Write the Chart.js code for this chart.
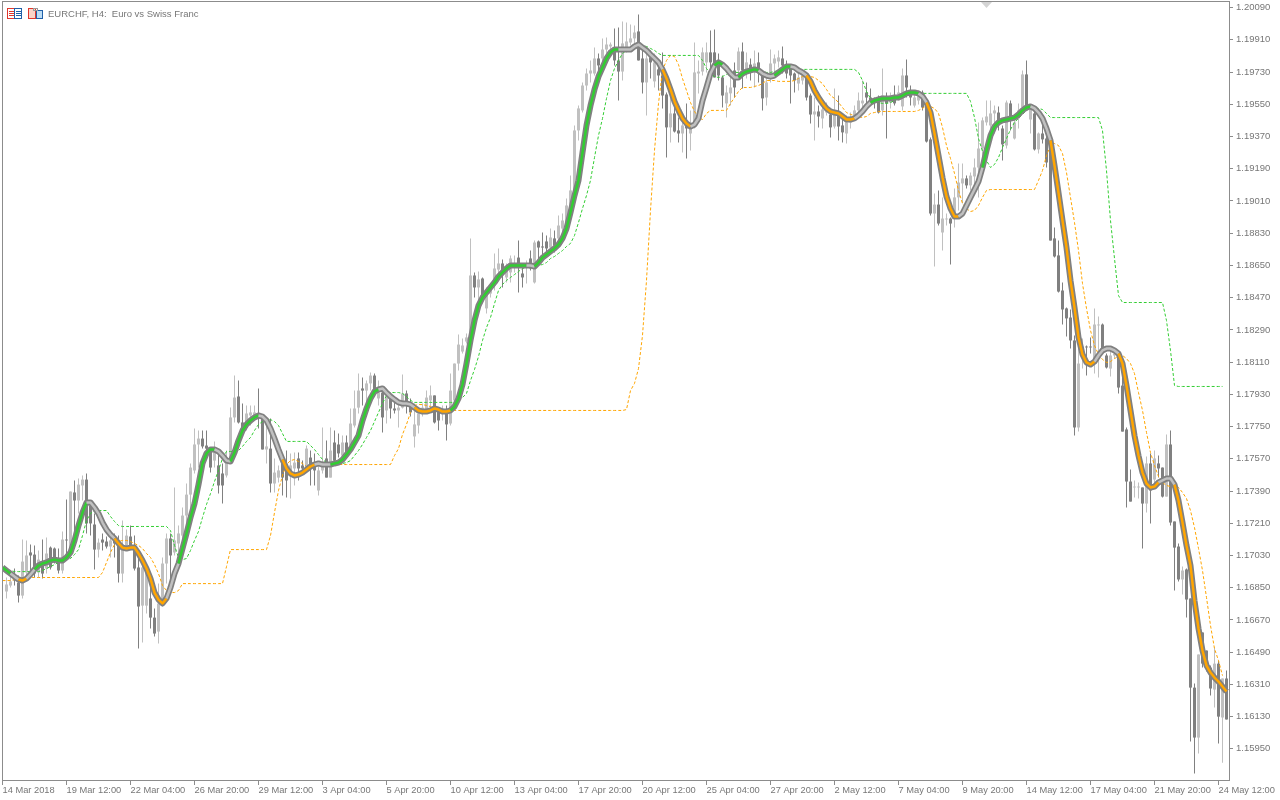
<!DOCTYPE html>
<html>
<head>
<meta charset="utf-8">
<title>EURCHF, H4</title>
<script src="https://cdn.jsdelivr.net/npm/chart.js@4/dist/chart.umd.min.js"></script>
<style>
html,body{margin:0;padding:0;background:#fff;}
canvas{display:block;}
</style>
</head>
<body>
<canvas id="myChart" width="1280" height="800"></canvas>
<script>
// one row per time tick
var open = [
1.16829,1.16862,1.16918,1.16879,1.16806,1.16935,1.17047,1.17035,1.16935,1.16991,1.16957,1.17074,1.17069,1.17013,1.16946,
1.17119,1.17041,1.17382,1.17337,1.17421,1.17454,1.17309,1.17203,1.17063,1.17119,1.17108,1.17080,1.17125,1.17102,1.16929,1.17086,
1.17136,1.17086,1.16963,1.16750,1.16750,1.16790,1.16683,1.16605,1.16767,1.16985,1.17125,1.17047,1.17097,1.17141,1.17253,1.17370,
1.17505,1.17650,1.17683,1.17644,1.17627,1.17560,1.17533,1.17488,1.17477,1.17560,1.17801,1.17918,1.17773,1.17745,1.17812,1.17806,
1.17817,1.17795,1.17622,1.17627,1.17432,1.17465,1.17544,1.17505,1.17488,1.17516,1.17572,1.17533,1.17516,1.17577,1.17538,1.17393,
1.17505,1.17572,1.17465,1.17661,1.17650,1.17588,1.17661,1.17644,1.17756,1.17856,1.17963,1.17951,1.17991,1.18035,1.17907,1.17940,
1.17840,1.17907,1.17851,1.17840,1.17856,1.17935,1.17879,1.17695,1.17756,1.17829,1.17840,1.17896,1.17924,1.17840,1.17829,1.17829,
1.17767,1.17896,1.18102,1.18169,1.18225,1.18248,1.18594,1.18527,1.18577,1.18410,1.18493,1.18538,1.18627,1.18661,1.18583,1.18611,
1.18639,1.18694,1.18605,1.18639,1.18689,1.18555,1.18784,1.18756,1.18784,1.18750,1.18801,1.18801,1.18856,1.18873,1.18968,1.19069,
1.19404,1.19516,1.19655,1.19722,1.19722,1.19806,1.19806,1.19856,1.19873,1.19862,1.19795,1.19733,1.19867,1.19895,1.19918,1.19957,
1.19806,1.19672,1.19812,1.19678,1.19745,1.19711,1.19605,1.19421,1.19499,1.19404,1.19387,1.19432,1.19387,1.19421,1.19722,1.19733,
1.19784,1.19840,1.19840,1.19784,1.19700,1.19555,1.19611,1.19739,1.19739,1.19845,1.19728,1.19772,1.19739,1.19784,1.19722,1.19588,
1.19694,1.19778,1.19789,1.19806,1.19767,1.19750,1.19722,1.19666,1.19683,1.19694,1.19599,1.19493,1.19510,1.19471,1.19504,1.19493,
1.19426,1.19488,1.19432,1.19387,1.19449,1.19471,1.19516,1.19555,1.19616,1.19588,1.19571,1.19588,1.19516,1.19588,1.19560,1.19583,
1.19588,1.19538,1.19711,1.19627,1.19543,1.19571,1.19616,1.19543,1.19354,1.18940,1.18990,1.18834,1.18907,1.18912,1.18912,1.19030,
1.19108,1.19136,1.19097,1.19147,1.19197,1.19303,1.19449,1.19432,1.19499,1.19504,1.19415,1.19320,1.19555,1.19359,1.19471,1.19532,
1.19717,1.19465,1.19499,1.19298,1.19387,1.19359,1.19337,1.18801,1.18706,1.18510,1.18410,1.18359,1.18231,1.17745,1.18186,1.18197,
1.18197,1.18119,1.18315,1.18320,1.18147,1.18074,1.18147,1.18147,1.17979,1.17734,1.17443,1.17410,1.17410,1.17410,1.17320,1.17544,
1.17454,1.17544,1.17521,1.17359,1.17650,1.17220,1.17080,1.16896,1.16952,1.16790,1.16292,1.16013,1.16600,1.16499,1.16404,1.16281,
1.16426,1.16125,1.16343
];
var high = [
1.16907,1.16946,1.16957,1.16918,1.17119,1.17114,1.17091,1.17086,1.17058,1.17119,1.17130,1.17080,1.17074,1.17069,1.17164,
1.17343,1.17387,1.17449,1.17460,1.17477,1.17488,1.17326,1.17264,1.17125,1.17153,1.17136,1.17153,1.17153,1.17141,1.17225,1.17175,
1.17197,1.17141,1.17019,1.17019,1.16974,1.16851,1.16734,1.16873,1.17019,1.17153,1.17153,1.17410,1.17197,1.17298,1.17432,1.17544,
1.17739,1.17728,1.17728,1.17728,1.17633,1.17667,1.17600,1.17544,1.17616,1.17856,1.18035,1.18007,1.17879,1.17868,1.17868,1.17868,
1.17963,1.17812,1.17784,1.17795,1.17572,1.17533,1.17560,1.17616,1.17600,1.17605,1.17605,1.17560,1.17644,1.17616,1.17600,1.17544,
1.17745,1.17672,1.17745,1.17728,1.17711,1.17700,1.17700,1.17851,1.17951,1.18046,1.18024,1.18007,1.18052,1.18046,1.18007,1.17951,
1.17963,1.17935,1.17896,1.17896,1.18041,1.17951,1.17907,1.17879,1.17851,1.17879,1.17951,1.17979,1.17924,1.17856,1.17868,1.17868,
1.18046,1.18102,1.18264,1.18242,1.18270,1.18801,1.18611,1.18616,1.18583,1.18527,1.18549,1.18717,1.18745,1.18683,1.18661,1.18706,
1.18706,1.18789,1.18661,1.18678,1.18733,1.18789,1.18789,1.18834,1.18817,1.18856,1.18845,1.18929,1.18940,1.19024,1.19152,1.19432,
1.19543,1.19672,1.19750,1.19795,1.19867,1.19834,1.19918,1.19923,1.19895,1.19974,1.19979,1.20013,1.20007,1.19996,1.19990,1.20052,
1.19867,1.19840,1.19851,1.19834,1.19767,1.19840,1.19616,1.19638,1.19532,1.19476,1.19476,1.19555,1.19516,1.19895,1.19795,1.19867,
1.19895,1.19962,1.19968,1.19834,1.19711,1.19655,1.19711,1.19784,1.19867,1.19895,1.19840,1.19806,1.19851,1.19840,1.19728,1.19711,
1.19856,1.19828,1.19851,1.19873,1.19795,1.19756,1.19728,1.19728,1.19728,1.19711,1.19611,1.19588,1.19543,1.19543,1.19560,1.19527,
1.19638,1.19599,1.19488,1.19488,1.19504,1.19543,1.19616,1.19683,1.19672,1.19638,1.19588,1.19599,1.19750,1.19616,1.19616,1.19655,
1.19655,1.19750,1.19800,1.19655,1.19627,1.19627,1.19627,1.19571,1.19365,1.19052,1.19069,1.19030,1.18940,1.18918,1.19080,1.19219,
1.19219,1.19152,1.19169,1.19247,1.19449,1.19476,1.19571,1.19571,1.19543,1.19538,1.19432,1.19571,1.19571,1.19488,1.19555,1.19739,
1.19795,1.19532,1.19527,1.19393,1.19471,1.19421,1.19337,1.18862,1.18789,1.18555,1.18415,1.18404,1.18259,1.18242,1.18242,1.18203,
1.18248,1.18410,1.18365,1.18326,1.18158,1.18175,1.18180,1.18158,1.18080,1.17745,1.17510,1.17449,1.17438,1.17410,1.17583,1.17600,
1.17616,1.17588,1.17521,1.17706,1.17728,1.17220,1.17097,1.16968,1.16957,1.16790,1.16315,1.16477,1.16600,1.16499,1.16415,1.16516,
1.16443,1.16343,1.16387
];
var low = [
1.16790,1.16851,1.16862,1.16767,1.16790,1.16907,1.16929,1.16907,1.16907,1.16901,1.16929,1.16952,1.16985,1.16929,1.16929,
1.17002,1.17013,1.17074,1.17264,1.17337,1.17153,1.17141,1.16952,1.17019,1.17058,1.17069,1.17019,1.17019,1.16879,1.16879,1.17069,
1.17069,1.16946,1.16510,1.16544,1.16706,1.16622,1.16577,1.16538,1.16762,1.16873,1.16851,1.17030,1.17030,1.17074,1.17141,1.17281,
1.17488,1.17521,1.17627,1.17577,1.17493,1.17521,1.17376,1.17320,1.17465,1.17549,1.17773,1.17767,1.17700,1.17728,1.17756,1.17784,
1.17739,1.17622,1.17544,1.17382,1.17382,1.17438,1.17365,1.17354,1.17348,1.17421,1.17449,1.17493,1.17493,1.17421,1.17421,1.17365,
1.17488,1.17465,1.17465,1.17549,1.17577,1.17560,1.17588,1.17627,1.17745,1.17823,1.17868,1.17879,1.17951,1.17924,1.17868,1.17717,
1.17767,1.17795,1.17823,1.17745,1.17851,1.17823,1.17806,1.17633,1.17711,1.17806,1.17823,1.17829,1.17767,1.17728,1.17784,1.17672,
1.17756,1.17885,1.18063,1.18158,1.18214,1.18242,1.18471,1.18410,1.18443,1.18382,1.18471,1.18510,1.18605,1.18527,1.18555,1.18555,
1.18611,1.18499,1.18527,1.18549,1.18622,1.18549,1.18650,1.18689,1.18717,1.18722,1.18722,1.18761,1.18801,1.18834,1.18929,1.19013,
1.19348,1.19504,1.19627,1.19672,1.19711,1.19700,1.19767,1.19834,1.19840,1.19767,1.19571,1.19683,1.19840,1.19879,1.19879,1.19795,
1.19611,1.19488,1.19694,1.19644,1.19627,1.19527,1.19253,1.19337,1.19393,1.19337,1.19281,1.19247,1.19292,1.19415,1.19611,1.19711,
1.19728,1.19739,1.19700,1.19683,1.19532,1.19476,1.19543,1.19588,1.19700,1.19638,1.19694,1.19683,1.19644,1.19672,1.19516,1.19543,
1.19672,1.19700,1.19756,1.19722,1.19694,1.19555,1.19616,1.19627,1.19661,1.19571,1.19443,1.19348,1.19421,1.19415,1.19488,1.19365,
1.19415,1.19348,1.19337,1.19331,1.19415,1.19460,1.19476,1.19532,1.19555,1.19543,1.19527,1.19499,1.19488,1.19359,1.19527,1.19543,
1.19571,1.19516,1.19588,1.19543,1.19532,1.19549,1.19516,1.19337,1.18929,1.18644,1.18873,1.18733,1.18873,1.18655,1.18862,1.18957,
1.18996,1.19080,1.19069,1.19097,1.19030,1.19192,1.19432,1.19365,1.19387,1.19404,1.19236,1.19303,1.19404,1.19354,1.19415,1.19527,
1.19527,1.19387,1.19292,1.19275,1.19331,1.19197,1.18789,1.18694,1.18499,1.18320,1.18253,1.18186,1.17700,1.17722,1.18074,1.18035,
1.18158,1.18046,1.18024,1.18175,1.18074,1.18030,1.18130,1.17935,1.17722,1.17298,1.17331,1.17354,1.17348,1.17069,1.17270,1.17209,
1.17421,1.17465,1.17354,1.17359,1.17197,1.16834,1.16885,1.16812,1.16683,1.15991,1.15812,1.15924,1.16404,1.16382,1.16248,1.16181,
1.15980,1.15873,1.16114
];
var close = [
1.16868,1.16885,1.16890,1.16806,1.16996,1.17030,1.17030,1.16929,1.17007,1.16929,1.17041,1.16963,1.17002,1.16946,1.17119,
1.17114,1.17387,1.17337,1.17426,1.17454,1.17209,1.17209,1.17063,1.17102,1.17102,1.17080,1.17114,1.17097,1.16929,1.17069,1.17141,
1.17086,1.16957,1.16745,1.16963,1.16935,1.16683,1.16594,1.16762,1.16985,1.17125,1.17030,1.17114,1.17153,1.17253,1.17370,1.17521,
1.17650,1.17683,1.17639,1.17627,1.17521,1.17616,1.17421,1.17421,1.17577,1.17801,1.17912,1.17773,1.17717,1.17823,1.17829,1.17829,
1.17795,1.17622,1.17639,1.17432,1.17493,1.17505,1.17465,1.17449,1.17533,1.17549,1.17516,1.17516,1.17627,1.17516,1.17505,1.17505,
1.17549,1.17465,1.17616,1.17560,1.17600,1.17661,1.17605,1.17767,1.17851,1.17951,1.17951,1.17991,1.18035,1.17951,1.17940,1.17801,
1.17912,1.17851,1.17840,1.17856,1.17935,1.17868,1.17829,1.17762,1.17823,1.17856,1.17912,1.17924,1.17773,1.17784,1.17851,1.17762,
1.17951,1.18102,1.18208,1.18203,1.18248,1.18594,1.18527,1.18572,1.18465,1.18499,1.18527,1.18633,1.18661,1.18622,1.18639,1.18689,
1.18661,1.18650,1.18583,1.18661,1.18633,1.18778,1.18750,1.18750,1.18745,1.18806,1.18761,1.18873,1.18901,1.18985,1.19069,1.19404,
1.19527,1.19655,1.19722,1.19739,1.19806,1.19767,1.19856,1.19884,1.19884,1.19795,1.19733,1.19890,1.19901,1.19918,1.19951,1.19795,
1.19672,1.19806,1.19784,1.19784,1.19711,1.19599,1.19421,1.19499,1.19398,1.19387,1.19432,1.19415,1.19421,1.19728,1.19733,1.19840,
1.19840,1.19784,1.19700,1.19711,1.19599,1.19616,1.19644,1.19644,1.19845,1.19739,1.19784,1.19728,1.19778,1.19722,1.19583,1.19672,
1.19778,1.19806,1.19812,1.19767,1.19722,1.19711,1.19683,1.19700,1.19722,1.19588,1.19493,1.19510,1.19482,1.19521,1.19527,1.19421,
1.19499,1.19426,1.19393,1.19449,1.19471,1.19516,1.19571,1.19571,1.19588,1.19560,1.19560,1.19504,1.19599,1.19555,1.19599,1.19555,
1.19616,1.19711,1.19644,1.19588,1.19588,1.19599,1.19532,1.19342,1.18940,1.18990,1.18884,1.18912,1.18912,1.18884,1.19030,1.19113,
1.19136,1.19097,1.19152,1.19197,1.19303,1.19460,1.19482,1.19499,1.19516,1.19449,1.19326,1.19560,1.19476,1.19449,1.19516,1.19717,
1.19527,1.19521,1.19298,1.19387,1.19354,1.19225,1.18789,1.18700,1.18504,1.18404,1.18354,1.18231,1.17745,1.18102,1.18197,1.18192,
1.18192,1.18320,1.18320,1.18186,1.18080,1.18147,1.18158,1.17968,1.17722,1.17443,1.17331,1.17415,1.17415,1.17320,1.17544,1.17393,
1.17572,1.17516,1.17359,1.17650,1.17214,1.17074,1.16896,1.16946,1.16784,1.16292,1.16013,1.16477,1.16426,1.16399,1.16287,1.16426,
1.16130,1.16343,1.16114
];
// the three lines start one bar earlier, at the left edge
var maLine = [1.16963,
1.16946,1.16929,1.16912,1.16896,1.16890,1.16901,1.16924,1.16952,1.16974,1.16985,1.16991,1.17002,1.17007,1.17002,1.17002,
1.17019,1.17047,1.17114,1.17197,1.17270,1.17326,1.17326,1.17298,1.17264,1.17214,1.17175,1.17147,1.17125,1.17097,1.17074,1.17069,
1.17074,1.17074,1.17041,1.17002,1.16957,1.16901,1.16823,1.16784,1.16762,1.16790,1.16851,1.16929,1.16985,1.17069,1.17153,1.17242,
1.17320,1.17426,1.17544,1.17600,1.17622,1.17622,1.17611,1.17588,1.17560,1.17555,1.17605,1.17672,1.17728,1.17762,1.17784,1.17801,
1.17812,1.17806,1.17784,1.17739,1.17683,1.17622,1.17566,1.17516,1.17488,1.17477,1.17482,1.17493,1.17510,1.17527,1.17538,1.17544,
1.17538,1.17538,1.17538,1.17544,1.17549,1.17566,1.17594,1.17622,1.17661,1.17700,1.17784,1.17851,1.17907,1.17946,1.17957,1.17963,
1.17940,1.17918,1.17901,1.17885,1.17879,1.17879,1.17873,1.17856,1.17840,1.17834,1.17834,1.17840,1.17851,1.17845,1.17834,1.17834,
1.17840,1.17862,1.17907,1.17985,1.18102,1.18231,1.18342,1.18426,1.18471,1.18499,1.18527,1.18555,1.18588,1.18611,1.18633,1.18650,
1.18650,1.18650,1.18650,1.18650,1.18650,1.18644,1.18666,1.18694,1.18711,1.18728,1.18745,1.18767,1.18801,1.18856,1.18946,1.19041,
1.19125,1.19281,1.19432,1.19543,1.19633,1.19705,1.19756,1.19806,1.19840,1.19856,1.19856,1.19856,1.19856,1.19856,1.19873,1.19884,
1.19867,1.19851,1.19828,1.19806,1.19784,1.19745,1.19694,1.19633,1.19566,1.19516,1.19471,1.19443,1.19426,1.19437,1.19471,1.19571,
1.19644,1.19722,1.19767,1.19784,1.19772,1.19750,1.19722,1.19700,1.19700,1.19722,1.19733,1.19739,1.19745,1.19739,1.19722,1.19711,
1.19705,1.19711,1.19728,1.19745,1.19761,1.19761,1.19756,1.19739,1.19728,1.19711,1.19678,1.19627,1.19588,1.19555,1.19527,1.19510,
1.19504,1.19499,1.19482,1.19465,1.19465,1.19471,1.19488,1.19510,1.19538,1.19560,1.19571,1.19577,1.19583,1.19583,1.19583,1.19588,
1.19588,1.19599,1.19611,1.19616,1.19616,1.19611,1.19594,1.19560,1.19504,1.19387,1.19264,1.19141,1.19035,1.18968,1.18923,1.18923,
1.18940,1.18985,1.19030,1.19074,1.19119,1.19197,1.19292,1.19376,1.19426,1.19449,1.19460,1.19465,1.19471,1.19476,1.19493,1.19516,
1.19532,1.19538,1.19527,1.19504,1.19471,1.19415,1.19348,1.19208,1.19057,1.18901,1.18750,1.18566,1.18415,1.18248,1.18153,1.18108,
1.18097,1.18113,1.18147,1.18175,1.18186,1.18186,1.18175,1.18158,1.18102,1.17979,1.17840,1.17700,1.17588,1.17493,1.17432,1.17410,
1.17415,1.17438,1.17449,1.17460,1.17460,1.17426,1.17337,1.17214,1.17086,1.16974,1.16778,1.16622,1.16499,1.16415,1.16376,1.16348,
1.16326,1.16298,1.16270
];
var upperBand = [1.16946,
1.16946,1.16946,1.16940,1.16940,1.16940,1.16940,1.16940,1.16940,1.16940,1.16946,1.16957,1.16968,1.16979,1.16991,1.17002,
1.17007,1.17013,1.17035,1.17063,1.17141,1.17225,1.17264,1.17281,1.17281,1.17281,1.17281,1.17248,1.17220,1.17197,1.17192,1.17192,
1.17192,1.17192,1.17192,1.17192,1.17192,1.17192,1.17192,1.17192,1.17192,1.17192,1.17169,1.17086,1.17019,1.17007,1.17013,1.17058,
1.17114,1.17164,1.17242,1.17315,1.17376,1.17443,1.17505,1.17572,1.17611,1.17611,1.17611,1.17616,1.17639,1.17667,1.17689,1.17728,
1.17762,1.17778,1.17789,1.17789,1.17778,1.17756,1.17711,1.17667,1.17667,1.17667,1.17667,1.17667,1.17667,1.17644,1.17622,1.17594,
1.17566,1.17549,1.17538,1.17538,1.17544,1.17544,1.17549,1.17560,1.17588,1.17616,1.17650,1.17689,1.17728,1.17778,1.17829,1.17879,
1.17924,1.17940,1.17940,1.17940,1.17935,1.17918,1.17896,1.17885,1.17885,1.17885,1.17885,1.17885,1.17885,1.17885,1.17885,1.17885,
1.17885,1.17885,1.17896,1.17912,1.17935,1.18007,1.18069,1.18141,1.18231,1.18303,1.18359,1.18437,1.18510,1.18544,1.18566,1.18583,
1.18599,1.18616,1.18633,1.18639,1.18639,1.18639,1.18650,1.18655,1.18666,1.18689,1.18700,1.18717,1.18733,1.18756,1.18773,1.18817,
1.18890,1.18968,1.19041,1.19125,1.19253,1.19376,1.19471,1.19583,1.19683,1.19750,1.19795,1.19834,1.19851,1.19862,1.19873,1.19879,
1.19879,1.19873,1.19862,1.19851,1.19834,1.19823,1.19823,1.19823,1.19823,1.19823,1.19823,1.19823,1.19823,1.19823,1.19823,1.19795,
1.19750,1.19722,1.19705,1.19700,1.19705,1.19717,1.19728,1.19728,1.19728,1.19728,1.19733,1.19739,1.19745,1.19745,1.19733,1.19728,
1.19728,1.19733,1.19739,1.19739,1.19745,1.19745,1.19745,1.19745,1.19745,1.19745,1.19745,1.19745,1.19745,1.19745,1.19745,1.19745,
1.19745,1.19745,1.19745,1.19745,1.19745,1.19745,1.19728,1.19683,1.19622,1.19583,1.19566,1.19560,1.19555,1.19555,1.19560,1.19571,
1.19583,1.19588,1.19594,1.19605,1.19611,1.19611,1.19611,1.19611,1.19611,1.19611,1.19611,1.19611,1.19611,1.19611,1.19611,1.19611,
1.19611,1.19611,1.19566,1.19476,1.19359,1.19287,1.19236,1.19197,1.19214,1.19253,1.19309,1.19359,1.19409,1.19449,1.19471,1.19493,
1.19516,1.19527,1.19532,1.19527,1.19521,1.19499,1.19476,1.19476,1.19476,1.19476,1.19476,1.19476,1.19476,1.19476,1.19476,1.19476,
1.19476,1.19476,1.19476,1.19404,1.19180,1.18901,1.18689,1.18482,1.18443,1.18443,1.18443,1.18443,1.18443,1.18443,1.18443,1.18443,
1.18443,1.18443,1.18443,1.18342,1.18175,1.17979,1.17974,1.17974,1.17974,1.17974,1.17974,1.17974,1.17974,1.17974,1.17974,1.17974,
1.17974,1.17974,null
];
var lowerBand = [1.16890,
1.16890,1.16890,1.16896,1.16901,1.16907,1.16907,1.16907,1.16907,1.16907,1.16907,1.16907,1.16907,1.16907,1.16907,1.16907,
1.16907,1.16907,1.16907,1.16907,1.16907,1.16907,1.16907,1.16907,1.16907,1.16935,1.16991,1.17047,1.17091,1.17108,1.17114,1.17114,
1.17108,1.17097,1.17086,1.17069,1.17041,1.17019,1.16979,1.16929,1.16862,1.16834,1.16823,1.16823,1.16834,1.16873,1.16873,1.16873,
1.16873,1.16873,1.16873,1.16873,1.16873,1.16873,1.16873,1.16873,1.16968,1.17063,1.17063,1.17063,1.17063,1.17063,1.17063,1.17063,
1.17063,1.17063,1.17063,1.17141,1.17270,1.17393,1.17477,1.17538,1.17560,1.17566,1.17555,1.17544,1.17527,1.17521,1.17527,1.17533,
1.17533,1.17533,1.17538,1.17538,1.17538,1.17538,1.17538,1.17538,1.17538,1.17538,1.17538,1.17538,1.17538,1.17538,1.17538,1.17538,
1.17538,1.17538,1.17588,1.17627,1.17706,1.17762,1.17829,1.17868,1.17873,1.17873,1.17868,1.17862,1.17851,1.17845,1.17840,1.17840,
1.17840,1.17840,1.17840,1.17840,1.17840,1.17840,1.17840,1.17840,1.17840,1.17840,1.17840,1.17840,1.17840,1.17840,1.17840,1.17840,
1.17840,1.17840,1.17840,1.17840,1.17840,1.17840,1.17840,1.17840,1.17840,1.17840,1.17840,1.17840,1.17840,1.17840,1.17840,1.17840,
1.17840,1.17840,1.17840,1.17840,1.17840,1.17840,1.17840,1.17840,1.17840,1.17840,1.17840,1.17840,1.17845,1.17951,1.17991,1.18074,
1.18259,1.18566,1.18957,1.19292,1.19555,1.19739,1.19795,1.19823,1.19817,1.19772,1.19694,1.19627,1.19560,1.19510,1.19476,1.19465,
1.19499,1.19516,1.19516,1.19516,1.19516,1.19516,1.19555,1.19588,1.19622,1.19644,1.19644,1.19644,1.19650,1.19655,1.19666,1.19683,
1.19683,1.19683,1.19678,1.19678,1.19678,1.19678,1.19683,1.19694,1.19705,1.19705,1.19705,1.19700,1.19683,1.19666,1.19633,1.19599,
1.19583,1.19560,1.19532,1.19504,1.19493,1.19488,1.19482,1.19476,1.19482,1.19499,1.19504,1.19510,1.19510,1.19510,1.19510,1.19510,
1.19510,1.19510,1.19510,1.19510,1.19510,1.19516,1.19527,1.19543,1.19538,1.19527,1.19499,1.19421,1.19320,1.19247,1.19164,1.19069,
1.18996,1.18968,1.18951,1.18957,1.18985,1.19030,1.19069,1.19074,1.19074,1.19074,1.19074,1.19074,1.19074,1.19074,1.19074,1.19074,
1.19074,1.19074,1.19074,1.19125,1.19180,1.19264,1.19320,1.19331,1.19320,1.19275,1.19169,1.19030,1.18890,1.18733,1.18549,1.18410,
1.18287,1.18203,1.18153,1.18125,1.18108,1.18113,1.18130,1.18141,1.18147,1.18130,1.18102,1.18046,1.17940,1.17840,1.17717,1.17605,
1.17533,1.17471,1.17438,1.17421,1.17415,1.17410,1.17410,1.17382,1.17348,1.17281,1.17186,1.17069,1.16946,1.16795,1.16639,1.16510,
1.16443,1.16359,null
];
// bar index where the ma colour changes, g rising, o falling, s flat
var trendStart = [0,1,3,5,7,20,27,40,43,52,56,63,69,77,81,93,102,111,130,132,153,164,171,177,179,183,188,192,196,200,212,216,228,230,238,244,256,261,272,278,288,292];
var trendKind = ['g','s','o','s','g','s','o','s','g','s','g','s','o','s','g','s','o','g','s','g','s','o','s','g','s','g','s','g','s','o','s','g','s','o','s','g','s','o','s','o','s','o'];
var timeTicks = [-1,15,31,47,63,79,95,111,127,143,159,175,191,207,223,239,255,271,287,303];
var timeLabels = ['14 Mar 2018','19 Mar 12:00','22 Mar 04:00','26 Mar 20:00','29 Mar 12:00','3 Apr 04:00','5 Apr 20:00','10 Apr 12:00','13 Apr 04:00','17 Apr 20:00','20 Apr 12:00','25 Apr 04:00','27 Apr 20:00','2 May 12:00','7 May 04:00','9 May 20:00','14 May 12:00','17 May 04:00','21 May 20:00','24 May 12:00'];
var priceTicks = [1.20090,1.19910,1.19730,1.19550,1.19370,1.19190,1.19010,1.18830,1.18650,1.18470,1.18290,1.18110,1.17930,1.17750,1.17570,1.17390,1.17210,1.17030,1.16850,1.16670,1.16490,1.16310,1.16130,1.15950];
var title = 'EURCHF, H4:  Euro vs Swiss Franc';

var trendColors = {g:'#32cd32', o:'#ffa500', s:'#c0c0c0'};
var axisColor = '#8c8c8c';
var textColor = '#777777';
var fontName = 'Liberation Sans';

function barColor(i){
	return close[i] >= open[i] ? '#c0c0c0' : '#808080';
}
function trendColor(ctx){
	var kind = trendKind[0], bar = ctx.p0DataIndex - 1;
	for (var t = 0; t < trendStart.length; t++) {
		if (trendStart[t] <= bar) kind = trendKind[t];
	}
	return trendColors[kind];
}
function points(arr){
	return arr.map(function(v, i){ return {x:i - 1, y:v}; });
}

/* frame, title and the two toolbar icons */
var decor = {
	id:'decor',
	afterDraw:function(chart){
		var c = chart.ctx, a = chart.chartArea;
		c.save();
		c.fillStyle = axisColor;
		c.fillRect(a.left, a.top, a.right - a.left, 1);
		c.fillRect(a.left, a.top, 1, a.bottom - a.top);
		c.fillStyle = '#d4d4d4';
		c.beginPath();
		c.moveTo(981, 2); c.lineTo(992, 2); c.lineTo(986.5, 8); c.closePath(); c.fill();
		// list icon
		c.strokeStyle = '#e0362c';
		c.fillStyle = '#fff';
		c.fillRect(8, 8, 14, 11);
		c.strokeRect(7.5, 8.5, 7, 10);
		c.strokeStyle = '#1f5fa8';
		c.strokeRect(14.5, 8.5, 7, 10);
		c.fillStyle = '#e0362c';
		c.fillRect(9, 11, 5, 1); c.fillRect(9, 13, 5, 1); c.fillRect(9, 15, 5, 1);
		c.fillStyle = '#1f5fa8';
		c.fillRect(16, 11, 5, 1); c.fillRect(16, 13, 5, 1); c.fillRect(16, 15, 5, 1);
		// profile icon
		c.fillStyle = '#fbd3c8';
		c.fillRect(29, 9, 6, 9);
		c.fillStyle = '#bcdcf4';
		c.fillRect(37, 11, 5, 7);
		c.strokeStyle = '#e0362c';
		c.strokeRect(28.5, 8.5, 7, 10);
		c.strokeStyle = '#1f5fa8';
		c.strokeRect(36.5, 10.5, 6, 8);
		c.strokeStyle = '#999';
		c.strokeRect(33.5, 8.5, 4, 2);
		c.fillStyle = textColor;
		c.font = '9.5px "' + fontName + '"';
		c.textBaseline = 'middle';
		c.fillText(title, 48, 14);
		c.restore();
	}
};

var ctx = document.getElementById('myChart').getContext('2d');
var chart = new Chart(ctx, {
	type:'bar',
	plugins:[decor],
	data:{
		datasets:[
			{type:'line', data:points(maLine), borderColor:'#32cd32', borderWidth:2.5, pointRadius:0, tension:0, order:0,
				borderJoinStyle:'round', segment:{borderColor:trendColor}},
			{type:'line', data:points(maLine), borderColor:'#808080', borderWidth:6, pointRadius:0, tension:0, order:1,
				borderJoinStyle:'round'},
			{type:'line', data:points(upperBand), borderColor:'#32cd32', borderWidth:1, borderDash:[3,2], pointRadius:0, tension:0, order:2},
			{type:'line', data:points(lowerBand), borderColor:'#ffa500', borderWidth:1, borderDash:[3,2], pointRadius:0, tension:0, order:3},
			{type:'bar', data:open.map(function(v, i){ return {x:i, y:[open[i], close[i]]}; }),
				backgroundColor:open.map(function(v, i){ return barColor(i); }),
				barThickness:3, grouped:false, borderWidth:0, inflateAmount:0, order:4},
			{type:'bar', data:open.map(function(v, i){ return {x:i, y:[low[i], high[i]]}; }),
				backgroundColor:open.map(function(v, i){ return barColor(i); }),
				barThickness:1, grouped:false, borderWidth:0, inflateAmount:0, order:5}
		]
	},
	options:{
		responsive:false,
		animation:false,
		devicePixelRatio:1,
		layout:{padding:{left:2, top:1, right:0, bottom:0}},
		plugins:{legend:{display:false}, tooltip:{enabled:false}},
		scales:{
			x:{
				type:'linear',
				offset:false,
				min:-1.125,
				max:305.625,
				afterFit:function(s){ s.height = 20; s.paddingLeft = 0; s.paddingRight = 0; },
				afterBuildTicks:function(s){ s.ticks = timeTicks.map(function(v){ return {value:v}; }); },
				grid:{offset:false, drawOnChartArea:false, color:axisColor, tickLength:5},
				border:{display:true, color:axisColor},
				ticks:{
					autoSkip:false, maxRotation:0, minRotation:0, align:'start', padding:0,
					color:textColor, font:{family:fontName, size:9.3},
					callback:function(v){ return timeLabels[timeTicks.indexOf(v)]; }
				}
			},
			y:{
				type:'linear',
				position:'right',
				min:1.15776,
				max:1.20127,
				afterFit:function(s){ s.width = 51; s.paddingTop = 0; s.paddingBottom = 0; },
				afterBuildTicks:function(s){ s.ticks = priceTicks.map(function(v){ return {value:v}; }); },
				grid:{drawOnChartArea:false, color:axisColor, tickLength:4},
				border:{display:true, color:axisColor},
				ticks:{
					autoSkip:false, padding:3,
					color:textColor, font:{family:fontName, size:9.5},
					callback:function(v){ return v.toFixed(5); }
				}
			}
		}
	}
});
</script>
</body>
</html>
